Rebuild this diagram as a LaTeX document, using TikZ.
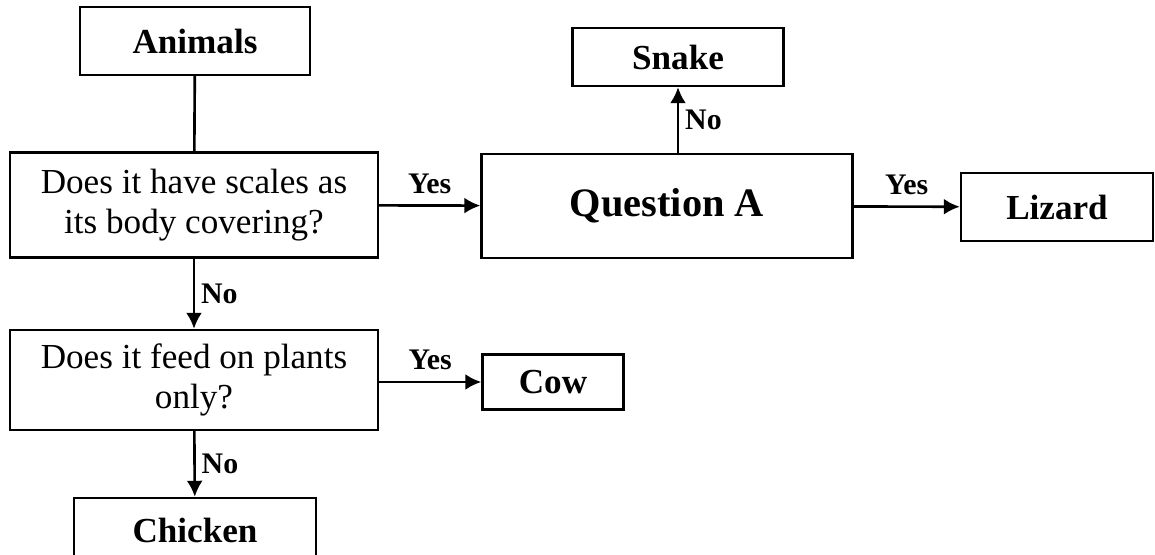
\documentclass[tikz,border=0pt]{standalone}
\usepackage{fontspec}
\setmainfont{Liberation Serif}
\usetikzlibrary{arrows.meta}

\begin{document}
\begin{tikzpicture}[x=0.02cm, y=-0.02cm, >={Latex[length=3.2mm, width=3.2mm]}]

    % --- Cadre (en pixels de la figure) ---
    \useasboundingbox (0,0) rectangle (1155,554);

    % --- Styles ---
    \tikzstyle{question} = [draw, line width=1.4pt, align=center, inner sep=2pt, font=\fontsize{20}{23}\selectfont]
    \tikzstyle{reponse} = [draw, line width=1.4pt, inner sep=2pt, font=\fontsize{20}{24}\selectfont\bfseries]
    \tikzstyle{lien} = [line width=1.5pt]
    \tikzstyle{etiq} = [font=\fontsize{17}{19}\selectfont\bfseries]

    % --- Boites de gauche ---
    \node[reponse, minimum width=4.6cm, minimum height=1.36cm] (animals) at (195,41) {Animals};
    \node[question, minimum width=7.36cm, minimum height=2.1cm] (scales) at (194,205) {Does it have scales as\\its body covering?};
    \node[question, minimum width=7.36cm, minimum height=2.0cm] (plants) at (194,380) {Does it feed on plants\\only?};
    \node[reponse, minimum width=4.84cm, minimum height=1.28cm] (chicken) at (195,530) {Chicken};

    % --- Boites de droite ---
    \node[reponse, minimum width=7.42cm, minimum height=2.08cm, font=\fontsize{23}{26}\selectfont\bfseries] (qa) at (667,206) {Question A};
    \node[reponse, minimum width=4.22cm, minimum height=1.16cm] (snake) at (678,57) {Snake};
    \node[reponse, minimum width=3.84cm, minimum height=1.36cm] (lizard) at (1057,207) {Lizard};
    \node[reponse, minimum width=2.82cm, minimum height=1.1cm] (cow) at (553,382) {Cow};

    % --- Liens ---
    \draw[lien] (animals) -- (scales);
    \draw[lien, ->] (scales) -- node[etiq, right] {No} (plants);
    \draw[lien, ->] (plants) -- node[etiq, right] {No} (chicken);
    \draw[lien, ->] (scales) -- node[etiq, above, yshift=1mm] {Yes} (qa);
    \draw[lien, ->] (plants.east |- cow.west) -- node[etiq, above, yshift=1mm] {Yes} (cow);
    \draw[lien, ->] (qa) -- node[etiq, above, yshift=1mm] {Yes} (lizard);
    \draw[lien, ->] (snake.south |- qa.north) -- node[etiq, right] {No} (snake);

\end{tikzpicture}
\end{document}
